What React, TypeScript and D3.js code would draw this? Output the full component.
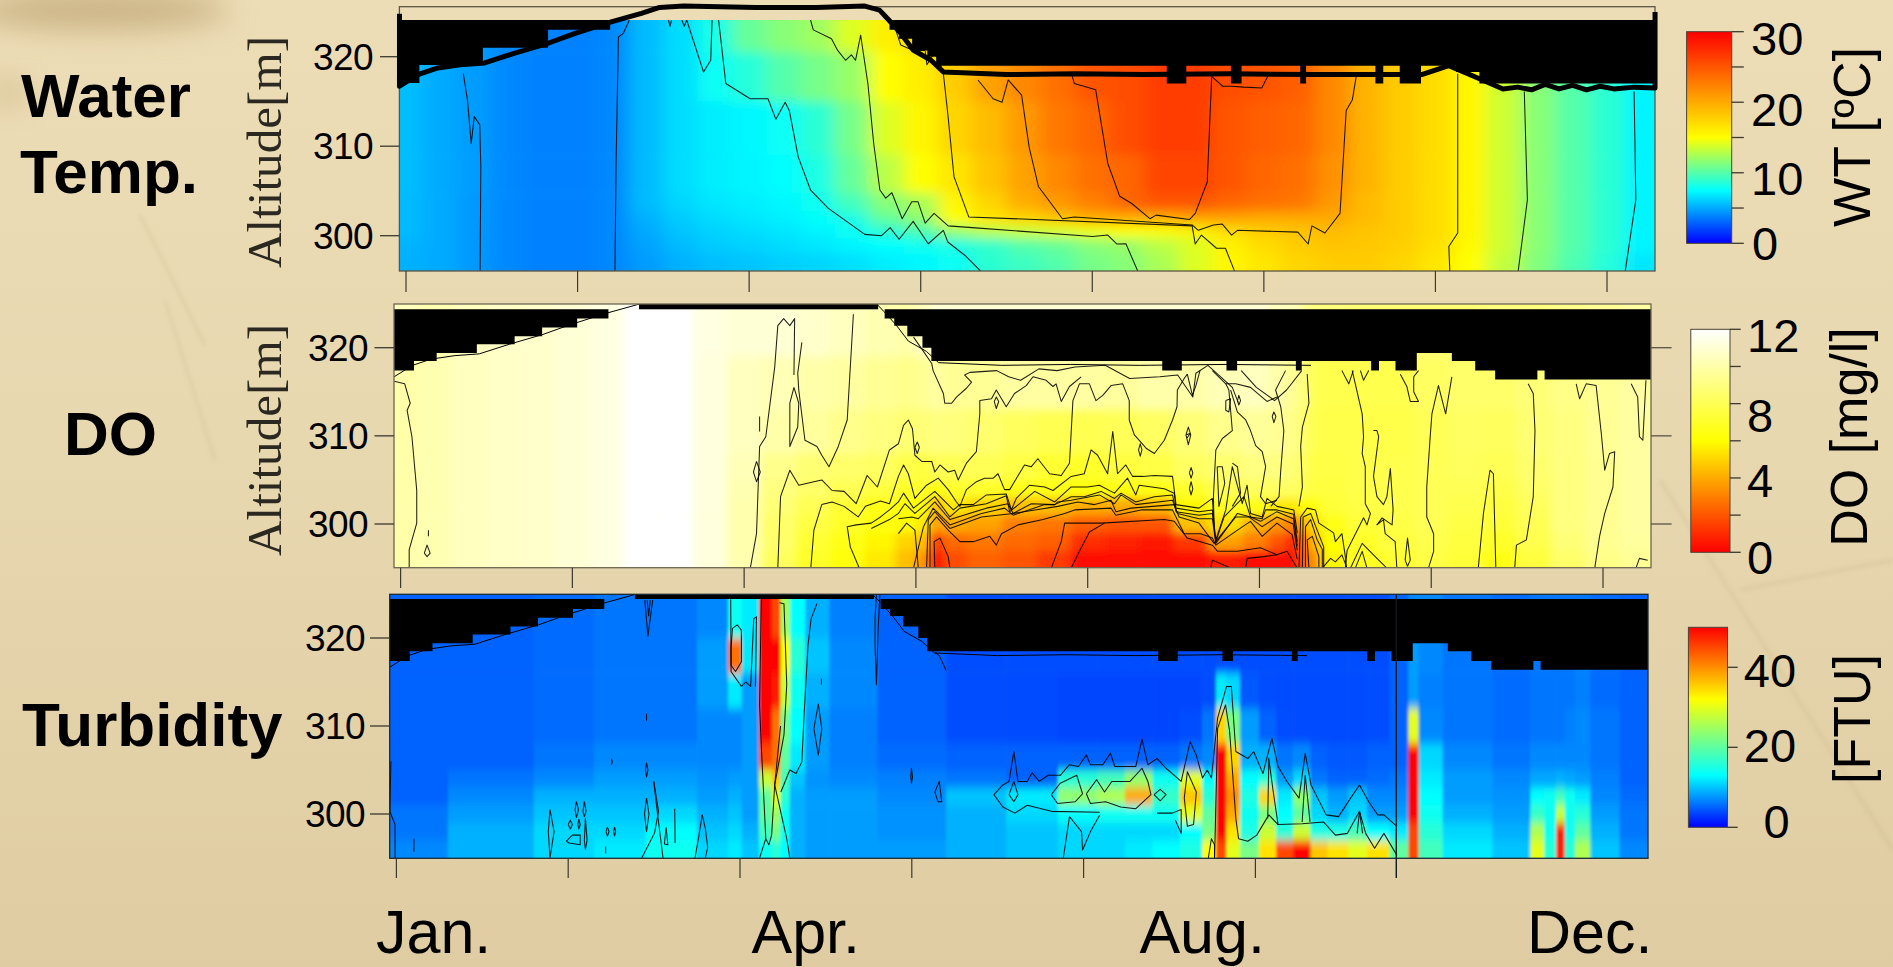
import React from "react";
import * as d3 from "d3";

type Pt = [number, number];

const WIDTH = 1893;
const HEIGHT = 967;
const SANS = "'Liberation Sans', Arial, sans-serif";
const SERIF = "'Liberation Serif', 'Times New Roman', serif";

const tickDays = [0, 50, 100, 150, 200, 250, 300, 350];
const altTicks = [320, 310, 300];
const monthLabels = ["Jan.", "Apr.", "Aug.", "Dec."];

// water level in the top panel
const levelDays = [-1.9, -1.9, 3.5, 8.8, 15.8, 22.9, 31.7, 41.4, 49.3, 59.8, 68.6, 73.9, 80.9, 102, 119.6, 133.7, 138, 140.7, 144.2, 147.8, 153, 156.6, 175, 195, 215, 240, 265, 296, 303.9, 312.5, 319.7, 324, 328, 332, 336, 340, 344, 348, 352, 358, 364, 364];
const levelAlts = [324.8, 316.7, 318, 318.7, 319.1, 319.3, 320.4, 321.5, 322.6, 323.9, 324.85, 325.5, 325.66, 325.5, 325.5, 325.66, 325.2, 324.1, 322.6, 320.75, 319.6, 318.3, 318, 318.1, 318, 318.1, 318, 318, 319, 317.6, 316.4, 316.6, 316.3, 316.9, 316.4, 316.8, 316.3, 316.7, 316.4, 316.6, 316.5, 325];

// air above the water: step edges (days) and lower edge of the black area (m)
const maskDays = [-4, 3.9, 10.5, 22.2, 33.2, 41.2, 51.4, 60.5, 140.9, 143.7, 147.5, 151.9, 154.5, 221.7, 227.4, 240.4, 243.5, 260.6, 262.3, 282.5, 284.8, 289.6, 295.8, 306, 312.8, 318.6, 330.9, 333, 368];
const maskLevels = [317.4, 318.5, 319.4, 320.4, 321.3, 322.3, 323.3, 330, 323.3, 322.5, 321.3, 320, 318.5, 317.4, 318.5, 317.4, 318.5, 317.4, 318.5, 317.4, 318.5, 317.4, 319.4, 318.5, 317.4, 316.4, 317.4, 316.4, 316.4];
const wtMaskDays = [-4, 3.9, 22.4, 41.4, 59.5, 140.9, 143.7, 147.5, 151.9, 154.5, 221.7, 227.4, 240.4, 243.5, 260.6, 262.3, 282.5, 284.8, 289.6, 295.8, 306, 312.8, 368];
const wtMaskLevels = [317.06, 319.07, 321, 323, 330, 323, 322, 320.7, 320, 319, 317, 319, 317, 319, 317, 319, 317, 319, 317, 319, 318.3, 317, 317];
const topGapDays = [69.4, 139];

// water temperature, degC
const wtDays = [0, 10, 20, 30, 40, 50, 60, 70, 80, 90, 100, 110, 120, 130, 140, 150, 160, 170, 180, 190, 200, 210, 220, 230, 240, 250, 260, 270, 280, 290, 300, 310, 320, 330, 340, 350, 360];
const wtAlts = [323, 318, 312, 306, 303.5, 302, 300.5, 299, 297];
const wtGrid = [
  [5.5, 5, 4.5, 4, 3.8, 3.8, 4, 5.5, 6.5, 8.2, 10.5, 11.5, 12.2, 14, 15.8, 17, 18, 20, 22, 23.5, 25, 25.5, 26.5, 26.5, 25.5, 25, 24.5, 22, 19.5, 18, 17, 15.5, 13.5, 11.5, 10, 8.8, 7.2],
  [5.6, 5, 4.6, 4, 3.8, 3.8, 4, 5.5, 6.5, 7.8, 8.6, 10, 11, 12, 15, 16, 18, 20.5, 22, 23.5, 25, 25.5, 26.5, 26.5, 25.5, 25, 24.5, 22, 19.5, 18, 17, 15.5, 13.5, 11.5, 10, 8.8, 7.2],
  [5.6, 5, 4.6, 4, 3.8, 3.8, 4, 5.5, 6.5, 7, 7.3, 7.7, 8.8, 11, 14, 15.5, 17.5, 19, 21, 23, 24, 25.5, 26.5, 26.5, 25, 24.5, 24, 22, 19.5, 18, 17, 15.5, 13.5, 11.5, 10, 8.8, 7.2],
  [5.6, 5, 4.6, 4, 3.8, 3.8, 4, 5.5, 6.5, 7, 7.2, 7.5, 8.3, 10.5, 13, 15, 16.5, 18.5, 20.5, 22, 23.5, 24, 26, 26, 25, 24, 23.5, 21.5, 19.5, 18, 17, 15.5, 13.5, 11.5, 10, 8.8, 7.2],
  [5.5, 5, 4.5, 4, 3.8, 3.8, 4, 5.5, 6.3, 6.8, 7, 7.3, 7.9, 9.5, 11.5, 12.5, 15.5, 17.5, 19.8, 21, 22.5, 24, 25, 25, 24, 23.5, 23, 21, 19, 18, 17, 15.5, 13.5, 11.5, 10, 8.8, 7.2],
  [5.5, 5, 4.5, 4, 3.8, 3.8, 4, 5.2, 6, 6.5, 6.8, 7.1, 7.6, 8.3, 10.5, 11.8, 15, 16.5, 17.5, 18.5, 19.8, 20, 20, 20.5, 20.5, 20, 20, 20, 19, 18, 17, 15.5, 13.5, 11.5, 10, 8.8, 7.2],
  [5.5, 5, 4.5, 4, 3.8, 3.8, 4, 5, 5.8, 6.2, 6.5, 6.8, 7.2, 7.8, 8.8, 9.8, 12, 13, 13.5, 14, 14.5, 15, 15.2, 15.8, 17, 18, 18.5, 19, 18.5, 18, 17, 15.5, 13.5, 11.5, 10, 8.8, 7.2],
  [5.3, 5, 4.5, 4, 3.8, 3.8, 4, 4.8, 5.5, 6, 6.2, 6.5, 6.8, 7.2, 7.5, 7.9, 8.3, 9, 10, 10.5, 11.5, 12, 13, 14, 15.8, 17, 18, 18.5, 18.3, 17.8, 16.8, 15.3, 13.5, 11.5, 10, 8.8, 7.2],
  [5.2, 5, 4.5, 4, 3.8, 3.8, 4, 4.6, 5.2, 5.6, 5.8, 6.1, 6.3, 6.6, 7, 7.3, 7.8, 8.8, 9.3, 10, 11, 11.5, 12.5, 14, 15.5, 16.5, 17.5, 18, 18, 17.5, 16.5, 15, 13.2, 11.3, 9.8, 8.6, 6.8],
];

// dissolved oxygen, mg/l
const doDays = [0, 10, 20, 30, 40, 50, 60, 70, 80, 90, 100, 110, 120, 130, 140, 148, 152, 156, 160, 170, 180, 190, 200, 210, 220, 230, 240, 250, 255, 260, 263, 266, 270, 280, 290, 300, 310, 320, 330, 340, 350, 360];
const doAlts = [322, 316, 310, 306, 304, 302, 300, 298, 296];
const doGrid = [
  [10.5, 10.2, 10.5, 10.7, 10.8, 11, 11.3, 12, 12, 11.3, 11, 11, 10.8, 10.5, 10.2, 10, 10.5, 11, 11, 11, 11, 11, 11, 11, 11, 11, 11, 11, 10.5, 10.5, 9.5, 9, 9, 8.8, 8.8, 8.8, 8.8, 9, 9, 9.3, 9.5, 9.8],
  [10, 10.2, 10.5, 10.7, 10.8, 11, 11.3, 12, 12, 11.2, 10.5, 10.3, 10, 9.8, 9.5, 9.3, 9.5, 9.8, 9.5, 9.5, 9.8, 9.8, 9.8, 9.7, 10, 10, 10.3, 10.5, 10, 9.5, 8.8, 8, 7.8, 7.8, 7.8, 8.3, 8.5, 8.5, 8.8, 9.2, 9.5, 9.8],
  [10, 10.2, 10.5, 10.7, 10.8, 11, 11.3, 12, 12, 11.2, 10.5, 10, 9.7, 9.3, 9, 8.7, 8.8, 9, 8.9, 8.6, 8.2, 7.9, 7.9, 8.1, 8.3, 8.8, 9.3, 9.6, 9.5, 9.2, 8.5, 7.8, 7.7, 7.7, 7.7, 8, 8.3, 8.2, 8.7, 9, 9.5, 9.8],
  [10, 10.2, 10.5, 10.7, 10.8, 11, 11.3, 12, 12, 11.2, 10.3, 9.3, 8.7, 8.5, 8.3, 7.7, 7.5, 8, 8, 8, 7.6, 7.2, 7, 7.4, 7.6, 8.3, 8.6, 9, 9, 8.8, 8.2, 7.6, 7.6, 7.7, 7.8, 8, 8.2, 8, 8.6, 9, 9.4, 9.8],
  [10, 10.2, 10.5, 10.7, 10.8, 11, 11.3, 12, 12, 11.2, 10.2, 9, 8.5, 8, 7.5, 7, 7, 6.3, 7, 7, 6.5, 6.5, 6.3, 6.3, 6.5, 7, 8, 8.2, 8.3, 8.3, 7.8, 7.5, 7.5, 7.7, 7.8, 8, 8, 7.7, 8.4, 9, 9.4, 9.8],
  [10, 10.2, 10.5, 10.7, 10.8, 11, 11.3, 12, 12, 11.2, 10.1, 8.8, 8, 7.2, 6.6, 6, 6, 4.5, 5.5, 5, 4.5, 4.5, 4, 4, 4.3, 5.8, 6.8, 6.5, 5.5, 5.5, 6, 6.3, 7.3, 7.6, 7.8, 8, 7.8, 7.5, 8.2, 9, 9.4, 9.8],
  [10, 10.2, 10.5, 10.7, 10.8, 11, 11.3, 12, 12, 11.2, 10.1, 8.5, 7.6, 7, 6.3, 6, 5.5, 3.8, 4, 3.8, 3, 2.8, 2.2, 2, 2, 4.5, 5.3, 4.2, 3.5, 3, 4.3, 5.3, 6.5, 7.3, 7.6, 8, 7.6, 7.3, 8, 9, 9.4, 9.8],
  [10, 10.2, 10.5, 10.7, 10.8, 11, 11.3, 12, 12, 11.2, 10.1, 8.5, 7.2, 6.5, 5.8, 5, 4.5, 1.5, 2.5, 2.8, 2.5, 2.2, 1.1, 0.8, 0.5, 1.3, 3.8, 3, 2, 1, 2.8, 4.5, 6, 7, 7.5, 7.8, 7.5, 7, 7.8, 8.8, 9.4, 9.7],
  [10, 10.2, 10.5, 10.7, 10.8, 11, 11.3, 12, 12, 11.2, 10.1, 8.2, 7, 6.2, 5.5, 4.5, 3.5, 0.3, 1.8, 2.3, 2, 1.4, 0.3, 0.2, 0.2, 0.2, 0.7, 0.3, 0.4, 0.2, 2.2, 3.5, 5.8, 6.8, 7.2, 7.6, 7.3, 6.5, 7.5, 8.5, 9.2, 9.5],
];

// turbidity, FTU
const tuDays = [0, 30, 50, 65, 80, 95, 98, 103, 108, 110.5, 113, 116, 122, 130, 150, 170, 185, 200, 208, 216, 224, 232, 237, 240, 243, 248, 254, 258, 264, 268, 274, 280, 285, 293, 296, 299, 310, 328, 332, 336, 339, 341, 345, 350, 362];
const tuAlts = [322, 318, 314, 310, 306, 304, 302, 300, 298, 296];
const tuGrid = [
  [5, 5, 5.5, 6, 6, 7, 14, 12, 50, 45, 25, 13, 9, 6.5, 5, 4, 4, 4, 4, 4, 4, 4, 4, 4, 4, 4, 4, 4, 4, 4, 4, 4, 4, 5, 7, 7, 6, 5.5, 6, 6, 6, 6, 6, 5.5, 5],
  [5, 5, 5.5, 6, 6, 8, 42, 12, 50, 50, 32, 16, 10, 7, 5, 4, 4, 4, 4, 4, 4, 4, 4, 4, 4, 4, 4, 4, 4, 4, 4, 4, 4, 5, 8, 7, 6, 5.5, 6, 6, 6, 6, 6.5, 5.5, 5],
  [5, 5, 5.5, 6, 6, 8, 12, 8, 50, 48, 28, 14, 9, 7, 5, 4, 3.8, 3.5, 3.5, 3.5, 3.5, 3.5, 4, 12, 11, 4.5, 4, 3.8, 3.8, 3.8, 3.8, 3.8, 4, 5, 8, 6.5, 6, 5.5, 6, 6, 6, 6, 6.5, 5.5, 5],
  [5, 5, 5.5, 6, 6, 7, 7, 8, 50, 42, 22, 13, 8, 6.5, 5, 4, 3.8, 3.5, 3.5, 3.5, 3.5, 4, 6, 35, 22, 8, 5, 4, 3.8, 3.8, 3.8, 3.8, 4, 5, 30, 7, 6, 5.5, 6, 6, 6, 6.5, 7, 6, 5],
  [5, 5, 6, 7, 7, 7, 7, 8, 45, 42, 20, 12, 8, 6.5, 5.5, 5, 5, 5, 5, 5, 5, 6, 7, 50, 35, 9, 9, 6, 7, 5, 4.5, 4.5, 5, 5, 50, 11, 7, 6, 7, 7, 7, 7, 7, 6, 5],
  [5, 6, 7, 8, 8, 7.5, 8, 8, 28, 36, 18, 10, 7.5, 7, 6.5, 6, 5, 16, 18, 24, 14, 30, 13, 50, 38, 13, 16, 8, 11, 6, 5, 5, 5.5, 6, 50, 12, 8, 7, 8.5, 8.5, 9, 8.5, 8, 6.5, 5],
  [5, 7, 9, 9, 9, 8, 9, 8, 20, 30, 16, 9, 8, 8, 7, 10, 12, 24, 26, 38, 17, 36, 16, 50, 40, 15, 35, 12, 24, 10, 8, 10, 7, 7, 50, 13, 8, 7.5, 13, 14, 18, 14, 12, 7, 5.5],
  [6, 8, 10, 10, 11, 9, 10, 8, 20, 25, 14, 9, 8, 8, 7.5, 9, 11, 13, 14, 14, 14, 30, 20, 50, 38, 14, 22, 13, 20, 11, 9, 11, 8, 8, 50, 14, 9, 8, 17, 14, 28, 14, 16, 8, 6],
  [6, 9, 11, 11, 13, 10, 11, 9, 18, 22, 14, 9, 8, 8, 7.5, 9, 10, 11, 11, 11, 11, 13, 22, 50, 34, 15, 28, 16, 28, 15, 15, 18, 13, 12, 45, 16, 11, 9, 26, 14, 48, 14, 20, 9, 6],
  [7, 9, 11, 12, 14, 11, 12, 10, 14, 16, 13, 9, 8, 8, 8, 9, 10, 11, 11, 12, 13, 15, 32, 45, 30, 22, 34, 45, 50, 36, 34, 30, 34, 20, 45, 18, 12, 10, 30, 16, 48, 16, 26, 10, 7],
];

// isolines, as [day, altitude]
const wtContours: Pt[][] = [
  [[16.7, 318.1], [17.9, 315.2], [19, 310.3], [19.9, 313.3], [21.5, 312.4], [21.8, 307.7], [21.6, 296]],
  [[60.9, 296], [61.2, 307.7], [61.9, 322.2], [63.3, 322.6], [65.1, 324.1]],
  [[76.5, 324.1], [76.9, 323.4], [77.4, 324.1]],
  [[80.4, 324.1], [81.1, 323.4], [81.8, 324.1], [86.7, 318.3], [88.8, 319.6], [89.2, 324.1]],
  [[91.1, 324.1], [93.2, 317], [100.3, 315.3], [105.5, 315.3], [107.8, 313], [110.5, 314.9], [111.7, 314], [114.3, 308.8], [117.9, 305.1], [123.1, 303.05], [133.7, 300.15], [138.6, 300], [141.1, 300.9], [143.7, 299.6], [147.8, 301.6], [152.2, 299.1], [156.6, 300.6], [157.9, 299.3], [163.2, 297.7], [167.6, 296]],
  [[117.9, 324.1], [118.7, 323], [124, 322], [125.8, 320.7], [128.1, 319.6], [129.8, 320.2], [131, 319.6], [132.5, 322.4], [134.6, 317], [136.3, 310.3], [138.1, 305.1], [139.8, 304.2], [141.6, 304.8], [144.6, 301.9], [147.4, 303.8], [149.2, 303.8], [151.3, 301.4], [153.9, 302.5], [158, 301.1], [165, 300.9], [200.1, 299.9], [204.5, 300.07], [207.2, 299.07], [209.8, 299.1], [213.3, 296]],
  [[140.7, 324.1], [142.1, 323.7], [144.2, 321.3], [147.8, 320.7], [151.3, 320.7], [151.8, 319.1], [154.4, 320.7], [156.6, 318.1], [157.9, 313.6], [159.7, 306.6], [164, 302.1], [229.1, 301.1], [230, 299.07], [231.8, 300.07], [236.2, 298.6], [238.8, 298.6], [241.5, 296]],
  [[166.7, 317.4], [171.1, 315.3], [173.7, 314.9], [175.5, 317.4], [179.4, 315.7], [181.6, 309.9], [184.3, 305.5], [191.3, 301.9], [194.8, 302.1], [229.1, 301.2], [230.9, 300.6], [235.3, 301.2], [237.9, 301.3], [240.6, 300.07], [242.3, 300.6], [259.9, 300.4], [262.9, 299.07], [264, 301.1], [267.8, 300.3], [272.2, 302.5], [274, 314], [275.8, 315.2], [277, 318]],
  [[194, 318], [194.8, 317], [201, 316.3], [204.5, 308.1], [208, 304.4], [211.5, 303.6], [216.8, 301.9], [218.6, 302.3], [228.3, 301.8], [230, 302.5], [233.5, 306], [234.8, 317.8]],
  [[234.8, 317.8], [238, 316.7], [240.6, 316.7], [244.1, 316.6], [249.4, 316.5], [251.1, 317.8]],
  [[306.5, 318.1], [306.5, 300.3], [303.9, 298.8], [304.2, 296]],
  [[325.9, 316.1], [326.8, 304], [324.1, 296]],
  [[357.9, 316.1], [358.4, 304], [355.3, 296]],
];

const doContours: Pt[][] = [
  [[-1.9, 316.2], [1.2, 315.9], [2.8, 313.7], [1.9, 312.9], [3.3, 309.9], [4.7, 303.8], [4.7, 300.1], [2.5, 297.1], [2.5, 295]],
  [[6.9, 296.7], [7.7, 297.6], [8.6, 296.7], [7.7, 296.3], [6.9, 296.7]],
  [[8.1, 299.3], [8.1, 298.6]],
  [[101.8, 295], [103.6, 298.9], [104.5, 308.8], [106.3, 309.9], [108.9, 317.8], [109.8, 322.5], [111.5, 323.3], [113.3, 322.5], [114.7, 323.3], [114.5, 316.9]],
  [[114.5, 315.5], [113.3, 313.7], [113.3, 308.8], [115.6, 311], [115.9, 313.7], [114.5, 315.5]],
  [[116.8, 320.6], [115.6, 317.1], [115.9, 315.2], [117.7, 309.5], [121.2, 308.8], [122.6, 307.8], [124.7, 306.5], [127.4, 308.8], [130, 311.8], [131.8, 323.8]],
  [[103.6, 307.1], [104.7, 305.9], [103.6, 304.8], [102.7, 305.9], [103.6, 307.1]],
  [[104.5, 312.2], [104.5, 310.5]],
  [[109.8, 295], [110.6, 303.1], [113.3, 306.1], [115.9, 304.4], [120.3, 304.8], [122.6, 305], [125.6, 303.8], [129.1, 303.7], [132.6, 302.3], [135.8, 305.5], [138.8, 304.2], [142.3, 308.4], [144.9, 309.1], [146.4, 311.2], [147.8, 311.8], [149, 310.8], [149.7, 307.8], [151.7, 307.1], [154.6, 307.1], [155.5, 305.9], [157, 306.7], [159.4, 305.9], [161.3, 306.1], [162.3, 305], [164.7, 306.9], [167.6, 308.2], [168.6, 312.5], [168.6, 314], [172, 314.2], [173.4, 315.2], [176.3, 313.3], [178.7, 314.8], [182.1, 315.7], [184.1, 316.7], [187.9, 316.3], [189.9, 315.6], [190.8, 315.9], [192.3, 313.9], [194.7, 315.6], [198.1, 316.7]],
  [[119.4, 295], [120.3, 299.3], [122.6, 302.2], [125.6, 302.5], [129.1, 302], [133.2, 300.8], [135.3, 302], [139.7, 302.6], [142.3, 302.3], [144.9, 305.4], [146.4, 306.7], [147.8, 305.7], [149.7, 302.9], [153.1, 304.4], [156.5, 305.2], [159.4, 303.9], [161.8, 302.5], [162.8, 302], [164.7, 303.9], [167.6, 304.8], [170, 305.2], [172.5, 305.2], [173.9, 305.7], [175.8, 303.9], [177.3, 303.9], [181.6, 306.7], [183.6, 306.5], [185.5, 307.4], [188.9, 305.7], [192.3, 305.5], [194.7, 306.9], [195.7, 314], [197.6, 315.9], [200.5, 315.9], [202.4, 314], [204.4, 314.6], [206.8, 315.7], [210.2, 315.9], [212.1, 314], [212.1, 311.8], [213.6, 310.1], [217, 308.6], [219.4, 308], [222.3, 309.5], [224.7, 311.8], [226, 313.3], [226.1, 315.2], [228.1, 316.5], [229, 317]],
  [[229, 317], [230.5, 314.6], [231.5, 315.7], [232.7, 317.4]],
  [[236.3, 317.4], [240.2, 315.9], [241.1, 315.2], [242.1, 310.6], [239.2, 309.7], [237.3, 308.4], [236.6, 303.1], [236.8, 299.7]],
  [[240.2, 315.9], [243.1, 315.9], [247.4, 315.5], [252.2, 313.9], [255.1, 314.4]],
  [[241.6, 315.2], [243.6, 312.7], [246, 311.8], [247.4, 310.6], [248.9, 308.9], [250.8, 308.2], [251.8, 306.5], [250.3, 303.1], [251.8, 302.3], [255.1, 302.7]],
  [[237.7, 306.5], [239.2, 306.5], [239.9, 304.6], [238.2, 302], [237.7, 306.5]],
  [[242.1, 306.9], [243.6, 306.5], [244.5, 303.5], [242.1, 302]],
  [[228.6, 310.1], [229.3, 311], [230, 310.1], [229.3, 309], [228.6, 310.1], [229.9, 310.3], [228.8, 309.7]],
  [[229.6, 305.8], [230.1, 306.4], [230.6, 305.8], [230.1, 305.2], [229.6, 305.8]],
  [[229.6, 304], [230.1, 304.8], [230.6, 304], [230.1, 303.3], [229.6, 304]],
  [[149.7, 308.7], [150.4, 309.3], [151, 308.7], [150.4, 308], [149.7, 308.7]],
  [[172.8, 313.9], [173.4, 314.4], [174.1, 313.9], [173.4, 313.1], [172.8, 313.9]],
  [[214.8, 308.4], [215.3, 309.1], [215.8, 308.4], [215.3, 307.7], [214.8, 308.4]],
  [[240.2, 314], [241.6, 314.2], [241.1, 312.7], [240.2, 312.9], [240.2, 314]],
  [[243.6, 314], [244, 314.6], [244.5, 314], [244, 313.5], [243.6, 314]],
  [[253.7, 312.2], [254.2, 312.7], [254.8, 312.2], [254.2, 311.5], [253.7, 312.2]],
  [[133.5, 295], [130.9, 297.4], [130, 299.7], [132.6, 299.9], [137, 300.1], [139.7, 300.8], [142.3, 301.6], [144.9, 302.5], [146.4, 303.5], [149.3, 301.8], [155.5, 303.7], [160.9, 301.6], [162.8, 302.2], [166.7, 302.2], [170.5, 303.3], [176.3, 303.4], [177.8, 301.6], [179.2, 302.9], [183.1, 304.4], [187.5, 304.2], [189.9, 303.8], [195.2, 305.4], [199, 305.7], [201, 308.4], [202.9, 307.8], [205.8, 305.7], [207.3, 310.5], [208.7, 305.7], [211.1, 306.7], [213.1, 305.4], [216, 305.4], [219.4, 305.5], [224.7, 305.4], [225.7, 302.2], [229, 302], [232.4, 301.8], [236.3, 302.9], [236.8, 299.7]],
  [[137, 299.5], [142.3, 300.5], [144.9, 301.2], [146.8, 302.3], [149.7, 301.2], [155.5, 303.1], [159.9, 300.8], [162.8, 301.8], [170.5, 302.3], [176.3, 303.2], [177.3, 301.4], [182.1, 302.9], [184.6, 303.7], [190.4, 302.5], [195.2, 304.2], [200, 304.2], [203.4, 304.4], [207.8, 303.5], [211.6, 305.2], [214, 303.3], [215, 304.4], [222.3, 304], [225.2, 303.5], [225.7, 301.8], [232.4, 301.4], [236.3, 301.6], [237.3, 298.2], [240.2, 301.6], [242.1, 306.5], [245, 302.3], [246.4, 304.4], [247.4, 301.2], [250.8, 300.8], [252.2, 302.9], [255.1, 302], [260, 301.6], [261, 299]],
  [[144.9, 300.6], [148.8, 300.8], [150.7, 300.6], [155.5, 302.5], [159.9, 300.5], [170.5, 301.8], [176.8, 302.3], [178.3, 301.2], [183.6, 302.3], [190.4, 302.2], [195.2, 303.1], [199, 303.1], [203.9, 303.7], [207.8, 302.9], [209.7, 303.5], [214, 302.5], [219.4, 303.1], [224.7, 303.3], [225.7, 301.4], [232.4, 301], [236.3, 301.2], [237.3, 298], [239.7, 300.8], [245.5, 303.1], [247.4, 300.8], [250.8, 300.6], [251.8, 301.6], [255.1, 301.6], [259.9, 301.1], [261, 298]],
  [[149.3, 295], [152.2, 299.7], [155, 301.8], [159.9, 299.9], [169.1, 301.2], [175.8, 301.8], [178.3, 301], [187.5, 302.2], [190.4, 302.2], [191.3, 302.5], [195.2, 302.7], [203.4, 303.3], [207.8, 302.3], [209.7, 303.3], [214, 302.2], [224.7, 302.7], [226.1, 301.2], [232.4, 300.6], [236.3, 300.6], [237.3, 297.8], [243.6, 301.2], [247.4, 300.8], [250.3, 300.3], [255.1, 301.4], [259.9, 300.6], [261, 297.5]],
  [[153.1, 295], [153.6, 300.5], [155.5, 301.4], [159.9, 299.5], [169.1, 300.8], [178.3, 301.2], [191.3, 302], [197.1, 302.5], [202, 302.2], [206.8, 302.7], [208.2, 301.4], [212.6, 301.8], [225.2, 302.2], [226.6, 300.8], [232.4, 300.1], [236.8, 297.8], [243.1, 300.8], [246.9, 300.8], [250.8, 299.7], [255.1, 300.8], [259.8, 300], [261, 297]],
  [[154.1, 295], [154.1, 299.9], [156, 300.8], [159.4, 299.3], [162.8, 298], [166.7, 298], [171.5, 298.6], [173.4, 297.6], [174.9, 298.9], [179.7, 299.9], [187, 300.5], [193.3, 301.2], [196.2, 301.6], [206.8, 301.8], [208.2, 301], [215.5, 301.6], [224.7, 301.6], [228.1, 298.9], [232.9, 298.9], [236.3, 298.4], [237.3, 297.6], [243.6, 299.3], [247.4, 300.3], [250.8, 298.6], [255.1, 300.1], [259.5, 298.8], [261, 296]],
  [[189.4, 295], [192.3, 298], [193.3, 300.1], [203.9, 300.1], [222.3, 300.5], [225.2, 300.3], [229, 298.4], [236.3, 297.6], [237.8, 296.9], [243.6, 296.9], [250.3, 297.3], [255.1, 296.5], [258, 296.9], [261, 295]],
  [[195.2, 295], [197.6, 296.9], [200.5, 299.1], [204.9, 300.1]],
  [[155.5, 295], [155.3, 298], [157, 298.4], [159.4, 296.3], [159.9, 295]],
  [[144.9, 298.9], [147.3, 300.1], [149.7, 299.3], [150.7, 295]],
  [[235.8, 295], [236.3, 295.9], [241.6, 295]],
  [[246, 295], [246.4, 296.1], [251.3, 296.3], [255.1, 296.5]],
  [[261.5, 295], [262, 300.8], [263.9, 301.8], [266.3, 301.6], [267.3, 300.1], [271.6, 299], [272.1, 298], [274, 298.9], [275, 296.3], [275.3, 295]],
  [[262.5, 295], [262.7, 300.8], [264.9, 301.2], [266.8, 299.3], [268.7, 297.4], [268.7, 295]],
  [[263.4, 295], [263.4, 299.7], [264.9, 300.5], [266.8, 298.2], [268.3, 297.1], [268.3, 295]],
  [[264.4, 295], [263.9, 298.2], [265.4, 298.6], [267.3, 296.3], [267.3, 295]],
  [[268.3, 295], [270.7, 296.1], [272.1, 295.7], [274, 296.5], [275.5, 295]],
  [[257.6, 317.4], [254.7, 315.2], [256.2, 313.3], [257.1, 310.6], [256.2, 306.1], [255.7, 303.1], [253.3, 302]],
  [[263.9, 317], [264.4, 313.7], [262.5, 311], [262, 308.8], [262.5, 304.2], [261.5, 302]],
  [[277, 317.4], [277.9, 315.9], [279.9, 312.5], [280.3, 309.9], [279.9, 308], [280.8, 306.5], [280.8, 302.3], [282.3, 301.2], [281.3, 299.9], [280.3, 300.7], [275.5, 297], [275, 295]],
  [[283.2, 310.6], [284.2, 310.6], [284.7, 309.9], [283.2, 305.4], [284.2, 303.1], [286.1, 302.2], [287.1, 303.1], [288.1, 306.3], [288.9, 301.6], [288.6, 299.9], [285.7, 300.7], [284.2, 299.9], [286.1, 300.5], [286.6, 298.9], [289.5, 298], [290, 295]],
  [[276.5, 295], [279.9, 297.8], [284.2, 296.1], [287.1, 295]],
  [[277.9, 295], [279.9, 296.9], [281.3, 295]],
  [[306, 316.7], [304.2, 312.5], [302.1, 315.7], [300.2, 312.5], [299.7, 309.9], [298.7, 304.2], [298.7, 300.8], [300.7, 298.9], [300.7, 296.9], [299.2, 295]],
  [[328.2, 315.9], [329.7, 314.8], [330.2, 310.6], [329.7, 303.1], [327.7, 298.2], [324.8, 297.6], [324.3, 295]],
  [[313.7, 295], [315.2, 301.2], [317.1, 306.1], [318.1, 305.7], [318.8, 295]],
  [[342.2, 315.9], [343.2, 314.2], [345.1, 315.9], [348, 315.7], [349.5, 310.3], [350.5, 306.1], [351.9, 308], [353.4, 308.2], [352.9, 304.2], [350.5, 301.2], [349, 298.6], [347.6, 295]],
  [[358.2, 315.9], [360.1, 314.4], [360.6, 309.9], [361.6, 309.5], [362.5, 316.3]],
  [[359.6, 295], [360.6, 296.1], [363, 295.9]],
  [[291, 317], [292.9, 315.6], [293.9, 313.9], [296.3, 313.9], [294.9, 315], [294.9, 316.7], [296.3, 317.4]],
  [[274, 317.4], [276, 315.9], [277.3, 317.4]],
  [[279.4, 317.4], [280.3, 316.3], [281.8, 317.4]],
  [[292.4, 295.9], [293.1, 298.4], [293.9, 295.9], [293.1, 295.2], [292.4, 295.9]],
  [[149.3, 321.2], [152, 319.7], [154.6, 318.2], [155, 317.4], [158, 314.8], [158.4, 313.7], [160.4, 313.7], [161.8, 314.4], [164.7, 315.4], [166.2, 316.1], [164.2, 316.9], [165.7, 317.2], [173.5, 317.4], [177, 316.7], [180.5, 316.3], [185.8, 317.6], [191.1, 317.4], [196.3, 317.8], [205.1, 318], [212.2, 316.5], [221, 316.7], [226.2, 316.9], [230.6, 314.4], [231.5, 317.1], [235, 318], [242.1, 315.5], [243.8, 313.8]],
  [[244.7, 317.4], [249.1, 315.5], [254.4, 314], [257.9, 315.2], [262.3, 317.4]],
];

const tuContours: Pt[][] = [
  [[173.9, 302.2], [176.5, 303.3], [178.3, 303.7], [179.7, 307.1], [180.9, 303.7], [183.6, 303.7], [185, 304.7], [187.1, 303.7], [189.7, 304.4], [193.2, 304.4], [195.9, 305.6], [198.5, 305.4], [200.8, 306.7], [202, 305.6], [205.6, 305.6], [207.8, 306.9], [209.1, 305.4], [215.2, 305.4], [217, 308.5], [218.7, 305.6], [221.4, 306.3], [224, 305.2], [228.4, 303.7], [231, 308.2], [232.8, 306.7], [234.6, 304.1], [236, 305], [237.2, 304.1], [239, 310.9], [241.6, 314.5], [243, 314.5], [244.3, 307.1], [247.8, 306.3], [249.5, 307.1], [252.2, 304.6], [254.8, 308.6], [256.6, 305.4], [259.2, 303.7], [262.7, 301.8], [264.5, 306.9], [266.2, 303.3], [270.6, 299.9], [274.2, 299.7], [277.7, 301.8], [280.3, 303.3], [283, 301.4], [285.6, 299.9], [287.4, 299.9], [291.2, 298.6]],
  [[173.9, 302.2], [176.5, 300.8], [180, 300.1], [183.6, 301], [190.6, 300.3], [204.7, 300.2]],
  [[194.1, 295], [195.9, 299.7], [199.4, 298], [199.7, 295.9], [202, 298], [204.7, 299.9]],
  [[221.4, 300.1], [225.8, 300.1], [228.4, 300.5], [228.4, 297.8], [226.7, 299.3]],
  [[244.3, 299.5], [245.1, 297.2], [247.8, 296.9], [250.4, 297.6], [253.9, 299.9], [256.6, 298.8], [263.6, 298.9], [269.8, 299.1], [273.3, 297.6], [276.8, 297.8], [280.3, 300.3], [282.1, 297.8], [284.7, 296.1], [287.4, 297.8], [291.2, 295.3]],
  [[236.3, 295], [237.2, 297.2], [238.1, 296.5], [238.1, 295]],
  [[178.3, 302.2], [179.7, 303.7], [180.9, 302.2], [179.7, 301.4], [178.3, 302.2]],
  [[190.6, 302.2], [193.2, 303.5], [198, 304.4], [199.7, 302.3], [197.6, 301.4], [192.4, 301.2], [190.6, 302.2]],
  [[200.8, 302.3], [203.8, 303.9], [206.1, 302.5], [208.2, 303.7], [213.5, 303.7], [217, 305.2], [218.7, 303.7], [219.6, 302.2], [215.2, 300.6], [210.8, 300.8], [206.4, 301.4], [202, 301.2], [200.8, 302.3]],
  [[220.5, 302.2], [222.3, 302.8], [224, 302.2], [222.3, 301.5], [220.5, 302.2]],
  [[229.3, 301.8], [230.2, 304.8], [232.8, 302.5], [232, 298.8], [230.2, 298.6], [229.3, 301.8]],
  [[238.1, 295], [238.4, 299.5], [239, 309.7], [241.3, 312.4], [242.5, 309.4], [244.3, 299.5]],
  [[253.6, 299.5], [253.9, 306.3], [255.2, 302.5], [256.6, 298.8]],
  [[263.6, 299.1], [264.5, 304.4], [265.9, 299.1]],
  [[279.6, 297.8], [280.3, 300.3], [281.2, 297.8]],
  [[97.3, 324.4], [97.4, 316.2], [100.4, 314.5], [101.7, 315], [103.1, 314.5], [104, 322.2], [104.8, 322.4], [104.5, 314.5]],
  [[106.2, 324.4], [105.7, 312.4], [106.2, 307.8], [107.5, 297.2], [108.4, 296.5], [109.2, 297.6], [110.1, 303.3], [111.8, 310]],
  [[105.7, 295], [107.5, 297.2]],
  [[111.5, 324], [112.8, 323.9], [113.6, 314.7], [112.8, 309], [110.1, 303.3], [113.6, 297.2], [114.5, 295]],
  [[122.4, 323.9], [120.7, 322.2], [119.8, 319.2], [118.6, 310.9], [118, 305.9], [116.3, 304.6], [114.5, 305], [111.9, 302.5]],
  [[97.4, 318.8], [97.8, 321.1], [99.2, 321.5], [100.4, 320.9], [100.4, 317.3], [98.7, 316.2], [97.4, 316.9], [97.4, 318.8]],
  [[121.5, 309.7], [122.8, 312.5], [123.8, 309.7], [122.8, 306.7], [121.5, 309.7]],
  [[123.7, 315.4], [123.7, 314.7]],
  [[72.3, 324.3], [73.2, 320.2], [74.6, 324.3]],
  [[73, 324.3], [73.4, 322.5], [73.9, 324.3]],
  [[72.8, 311.4], [72.8, 310.6]],
  [[62.6, 306.3], [62.8, 305.9], [62.6, 305.6]],
  [[72.5, 305], [72.8, 305.8], [73.2, 305], [72.8, 304.2], [72.5, 305]],
  [[74.9, 303.7], [76.3, 300.3], [75.1, 297.8], [71.4, 295]],
  [[74.9, 303.7], [76, 300], [77.6, 295]],
  [[72.8, 301.8], [73.5, 300], [72.8, 298], [72.2, 300], [72.8, 301.8]],
  [[44.7, 300.5], [45.9, 298], [44.7, 295], [44.2, 298], [44.7, 300.5]],
  [[52, 300.5], [52.4, 301.4], [53, 300.5], [52.4, 299.6], [52, 300.5]],
  [[54.3, 300.3], [54.7, 301.4], [55.2, 300.3], [54.7, 299.7], [54.3, 300.3]],
  [[50, 298.8], [50.6, 299.3], [51.2, 298.8], [50.6, 298.3], [50, 298.8]],
  [[52.8, 298.8], [53.1, 299.4], [53.5, 298.8], [53.1, 298.3], [52.8, 298.8]],
  [[49.4, 296.9], [51.2, 297.6], [53.5, 297.6], [53.5, 296.5], [50.3, 296.7], [49.4, 296.9]],
  [[54.7, 297], [55, 299.5], [55.5, 297], [55, 296], [54.7, 297]],
  [[61, 298], [61.4, 298.5], [61.9, 298], [61.4, 297.5], [61, 298]],
  [[63.2, 298], [63.5, 298.5], [63.8, 298], [63.5, 297.5], [63.2, 298]],
  [[60.9, 296.3], [60.9, 295.5]],
  [[81, 300.6], [81.1, 296.7]],
  [[78.5, 298.5], [79, 296.5], [78, 296.6], [78.5, 298.5]],
  [[89, 299.9], [89.9, 298.4], [90.6, 296.2], [89.9, 295]],
  [[89, 299.9], [87.9, 297.2], [86.9, 295]],
  [[-1.6, 306], [-1.9, 300.3], [-0.4, 298.8], [-0.4, 295]],
  [[5.1, 297.2], [5.1, 295.7]],
  [[139.7, 324.9], [139.3, 322.2], [139.3, 319.2], [139.7, 314.7], [140.2, 321], [140.7, 324.9]],
  [[149.7, 304.2], [149.9, 305.2], [150.2, 304.2], [149.9, 303.5], [149.7, 304.2]],
  [[156.7, 302.5], [158, 303.7], [158.7, 301.4], [157.6, 301.4], [156.7, 302.5]],
  [[156.7, 318.4], [158, 318], [160, 316.3]],
];

const wtScale = d3.scaleLinear<string>().domain([0, 7.5, 15, 30]).range(["#0000ff", "#00ffff", "#ffff00", "#ff0000"]).clamp(true);
const doScale = d3.scaleLinear<string>().domain([0, 6, 12]).range(["#ff0000", "#ffff00", "#ffffff"]).clamp(true);
const tuScale = d3.scaleLinear<string>().domain([0, 13, 32, 50]).range(["#0000ff", "#00ffff", "#ffff00", "#ff0000"]).clamp(true);

const panels = [
  {
    id: "wt", days: wtDays, alts: wtAlts, grid: wtGrid, color: wtScale, contours: wtContours,
    maskDays: wtMaskDays, maskLevels: wtMaskLevels, blur: "9 6",
    left: 399.4, right: 1655, top: 20, frameTop: 6.7, bottom: 271, maskTop: 20,
    xRange: [406, 1607], yRange: [235.7, 56.7], tickBottom: 292, ticks: tickDays,
    labelX: 373, tickFrom: 380, frame: "#5c5648",
  },
  {
    id: "do", days: doDays, alts: doAlts, grid: doGrid, color: doScale, contours: doContours,
    maskDays, maskLevels, blur: "4 4",
    left: 394, right: 1651, top: 304, frameTop: 304, bottom: 567.7, maskTop: 309.3,
    xRange: [400.6, 1603], yRange: [524, 347.7], tickBottom: 588, ticks: tickDays,
    labelX: 368, tickFrom: 374.5, frame: "#6d6650",
  },
  {
    id: "tu", days: tuDays, alts: tuAlts, grid: tuGrid, color: tuScale, contours: tuContours,
    maskDays, maskLevels, blur: "1.4 5",
    left: 389.7, right: 1648, top: 594.3, frameTop: 594.3, bottom: 858.3, maskTop: 599,
    xRange: [396.4, 1599], yRange: [814, 638], tickBottom: 878, ticks: tickDays.slice(0, 6),
    labelX: 365, tickFrom: 370, frame: "#1c2a33",
  },
];

const colorBars = [
  { id: "wtBar", scale: wtScale, max: 30, x0: 1686.6, x1: 1731.7, y0: 243.3, y1: 31.7, tickEnd: 1743.8, ticks: [0, 5, 10, 15, 20, 25, 30],
    labels: [["30", 1751, 38], ["20", 1751, 109], ["10", 1751, 178], ["0", 1752, 243]], title: "WT [ºC]", titleX: 1870, titleY: 137 },
  { id: "doBar", scale: doScale, max: 12, x0: 1690.8, x1: 1730, y0: 552.3, y1: 329.3, tickEnd: 1740.7, ticks: [0, 2, 4, 6, 8, 10, 12],
    labels: [["12", 1747, 335], ["8", 1747, 415], ["4", 1747, 480], ["0", 1747, 557]], title: "DO [mg/l]", titleX: 1867, titleY: 437 },
  { id: "tuBar", scale: tuScale, max: 50, x0: 1688.4, x1: 1727.5, y0: 827.3, y1: 627.3, tickEnd: 1737.7, ticks: [0, 20, 40],
    labels: [["40", 1743.8, 670], ["20", 1743.8, 745], ["0", 1763.6, 821]], title: "[FTU]", titleX: 1870, titleY: 719 },
];

const sideTitles: [string, number, number][] = [["Water", 21, 117], ["Temp.", 20, 193], ["DO", 64, 455], ["Turbidity", 22, 746]];
const monthX = [376, 751.5, 1139.4, 1527];
const altitudeTitles = [{ cy: 152 }, { cy: 440 }];

// cell edges half way between the grid centres, the outer ones run past the frame
const cellEdges = (centers: number[], pad: number) => {
  const mids = d3.pairs(centers).map(([a, b]) => (a + b) / 2);
  const dir = Math.sign(centers[1] - centers[0]);
  return [centers[0] - dir * pad, ...mids, centers[centers.length - 1] + dir * pad];
};

function Panel({ p, index }: { p: (typeof panels)[number]; index: number }) {
  const x = d3.scaleLinear().domain([0, 350]).range(p.xRange);
  const y = d3.scaleLinear().domain([300, 320]).range(p.yRange);
  const xEdges = cellEdges(p.days, 30);
  const yEdges = cellEdges(p.alts, 12);
  const line = d3.line<Pt>().x((d) => x(d[0])).y((d) => y(d[1]));
  const airArea = d3
    .area<number>()
    .x((_, i) => x(p.maskDays[i]))
    .y0(p.maskTop)
    .y1((lvl) => Math.max(p.maskTop, y(lvl)))
    .curve(d3.curveStepAfter);
  const w = p.right - p.left;
  const tuStop = x(291);

  return (
    <g>
      <defs>
        <clipPath id={`${p.id}-clip`}>
          <rect x={p.left} y={p.top} width={w} height={p.bottom - p.top} />
        </clipPath>
        <filter id={`${p.id}-soft`} x="-5%" y="-10%" width="110%" height="120%">
          <feGaussianBlur stdDeviation={p.blur} />
        </filter>
      </defs>
      <g clipPath={`url(#${p.id}-clip)`}>
        <g filter={`url(#${p.id}-soft)`}>
          {p.grid.map((row, r) =>
            row.map((v, c) => (
              <rect
                key={`${r}-${c}`}
                x={x(xEdges[c])}
                y={y(yEdges[r])}
                width={x(xEdges[c + 1]) - x(xEdges[c]) + 0.6}
                height={y(yEdges[r + 1]) - y(yEdges[r]) + 0.6}
                fill={p.color(v)}
              />
            ))
          )}
        </g>
        {/* black air area */}
        <path d={airArea(p.maskLevels) ?? ""} fill="#000" />
        {index > 0 && (
          <rect x={x(topGapDays[0])} y={p.top} width={x(topGapDays[1]) - x(topGapDays[0])} height={p.maskTop - p.top} fill="#000" />
        )}
        {index > 0 && (
          <path
            d={line(levelDays.slice(1).map((d, i) => [d, levelAlts[i + 1]] as Pt).filter((d) => d[0] < 291)) ?? ""}
            fill="none"
            stroke="#000"
            strokeWidth={1}
          />
        )}
        {p.contours.map((c, i) => (
          <path key={i} d={line(c) ?? ""} fill="none" stroke="#000" strokeWidth={1.05} strokeOpacity={0.88} strokeLinejoin="round" />
        ))}
      </g>
      <rect x={p.left} y={p.frameTop} width={w} height={p.bottom - p.frameTop} fill="none" stroke={p.frame} strokeWidth={1.3} />
      {p.ticks.map((d) => (
        <line key={d} x1={x(d)} x2={x(d)} y1={p.bottom} y2={p.tickBottom} stroke="#3d392e" strokeWidth={1.2} />
      ))}
      {altTicks.map((a) => (
        <g key={a}>
          <line x1={p.tickFrom} x2={p.left} y1={y(a)} y2={y(a)} stroke="#3d392e" strokeWidth={1.3} />
          <text x={p.labelX} y={y(a) + 13} textAnchor="end" fontFamily={SANS} fontSize={37} fill="#000" letterSpacing={-0.6}>
            {a}
          </text>
          {index === 1 && <line x1={p.right} x2={1671.6} y1={y(a)} y2={y(a)} stroke="#5a5444" strokeWidth={1.3} />}
        </g>
      ))}
      {index === 0 && (
        <path
          d={line(levelDays.map((d, i) => [d, levelAlts[i]] as Pt)) ?? ""}
          fill="none"
          stroke="#000"
          strokeWidth={5}
          strokeLinejoin="round"
        />
      )}
      {index === 2 && <line x1={tuStop} x2={tuStop} y1={p.top} y2={p.tickBottom} stroke="#10181c" strokeWidth={1.4} />}
    </g>
  );
}

function ColorBar({ b }: { b: (typeof colorBars)[number] }) {
  const y = d3.scaleLinear().domain([0, b.max]).range([b.y0, b.y1]);
  const stops = (b.scale as d3.ScaleLinear<string, string>).domain();
  return (
    <g>
      <defs>
        <linearGradient id={b.id} x1="0" y1="1" x2="0" y2="0">
          {stops.map((s: number) => (
            <stop key={s} offset={s / b.max} stopColor={b.scale(s)} />
          ))}
        </linearGradient>
      </defs>
      <rect x={b.x0} y={b.y1} width={b.x1 - b.x0} height={b.y0 - b.y1} fill={`url(#${b.id})`} stroke="#4a4436" strokeWidth={1} />
      {b.ticks.map((t) => (
        <line key={t} x1={b.x1} x2={b.tickEnd} y1={y(t)} y2={y(t)} stroke="#3d392e" strokeWidth={1.3} />
      ))}
      {b.labels.map(([s, lx, ly]) => (
        <text key={s as string} x={lx as number} y={(ly as number) + 17} fontFamily={SANS} fontSize={47} fill="#000">
          {s}
        </text>
      ))}
      <text
        transform={`translate(${b.titleX} ${b.titleY}) rotate(-90)`}
        textAnchor="middle"
        fontFamily={SANS}
        fontSize={52}
        fill="#000"
      >
        {b.title}
      </text>
    </g>
  );
}

export default function App() {
  return (
    <svg width={WIDTH} height={HEIGHT} viewBox={`0 0 ${WIDTH} ${HEIGHT}`} style={{ position: "fixed", left: 0, top: 0, display: "block" }}>
      <defs>
        <linearGradient id="paper" x1="0" y1="0" x2="0" y2="1">
          <stop offset="0" stopColor="#edddb6" />
          <stop offset="0.45" stopColor="#e8d8b0" />
          <stop offset="1" stopColor="#dfcca2" />
        </linearGradient>
        <filter id="smudge" x="-40%" y="-120%" width="180%" height="340%">
          <feGaussianBlur stdDeviation="15" />
        </filter>
        <filter id="streak" x="-30%" y="-30%" width="160%" height="160%">
          <feGaussianBlur stdDeviation="2.2" />
        </filter>
      </defs>
      <rect width={WIDTH} height={HEIGHT} fill="url(#paper)" />
      <ellipse cx={100} cy={10} rx={130} ry={20} fill="#a98a55" opacity={0.5} filter="url(#smudge)" />
      <ellipse cx={8} cy={92} rx={22} ry={14} fill="#a98a55" opacity={0.3} filter="url(#smudge)" />
      <g filter="url(#streak)" fill="none" stroke="#a89468" strokeOpacity={0.22} strokeWidth={2.4}>
        <path d="M140 215 L205 345" />
        <path d="M165 300 L215 460" />
        <path d="M1660 480 L1893 850" />
        <path d="M1740 590 L1893 560" />
      </g>

      {panels.map((p, i) => (
        <Panel key={p.id} p={p} index={i} />
      ))}
      {colorBars.map((b) => (
        <ColorBar key={b.id} b={b} />
      ))}

      {altitudeTitles.map((t, i) => (
        <text
          key={i}
          transform={`translate(281 ${t.cy}) rotate(-90)`}
          textAnchor="middle"
          fontFamily={SERIF}
          fontSize={49}
          textLength={232}
          lengthAdjust="spacingAndGlyphs"
          fill="#2a2820"
        >
          Altitude[m]
        </text>
      ))}
      {sideTitles.map(([s, sx, sy]) => (
        <text key={s} x={sx} y={sy} fontFamily={SANS} fontWeight={700} fontSize={62} fill="#000">
          {s}
        </text>
      ))}
      {monthLabels.map((m, i) => (
        <text key={m} x={monthX[i]} y={953} fontFamily={SANS} fontSize={61} fill="#000">
          {m}
        </text>
      ))}
    </svg>
  );
}
